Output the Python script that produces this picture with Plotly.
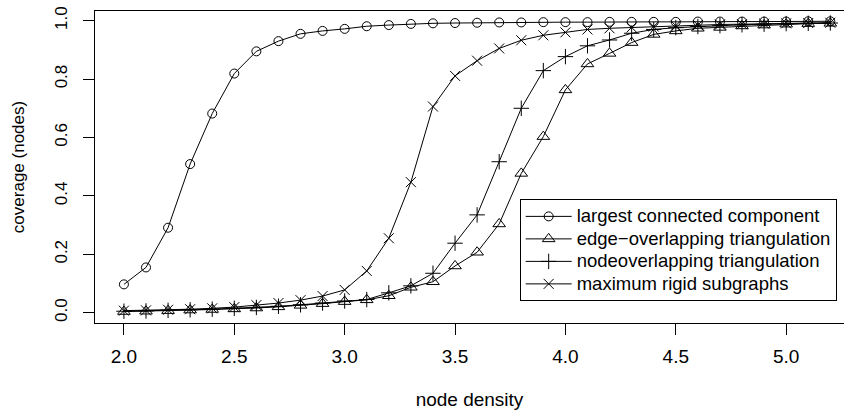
import plotly.graph_objects as go

density = [2.0, 2.1, 2.2, 2.3, 2.4, 2.5, 2.6, 2.7, 2.8, 2.9,
           3.0, 3.1, 3.2, 3.3, 3.4, 3.5, 3.6, 3.7, 3.8, 3.9,
           4.0, 4.1, 4.2, 4.3, 4.4, 4.5, 4.6, 4.7, 4.8, 4.9,
           5.0, 5.1, 5.2]

largest_cc = [0.097, 0.155, 0.291, 0.509, 0.682, 0.819, 0.895, 0.930, 0.955, 0.965,
              0.972, 0.981, 0.985, 0.989, 0.991, 0.992, 0.993, 0.994, 0.994, 0.995,
              0.995, 0.995, 0.996, 0.996, 0.996, 0.996, 0.997, 0.997, 0.997, 0.997,
              0.997, 0.998, 0.998]

edge_overlap = [0.004, 0.005, 0.007, 0.009, 0.011, 0.013, 0.016, 0.020, 0.025, 0.031,
                0.038, 0.044, 0.058, 0.087, 0.106, 0.160, 0.207, 0.304, 0.477, 0.603,
                0.763, 0.852, 0.888, 0.925, 0.953, 0.965, 0.974, 0.977, 0.982, 0.985,
                0.988, 0.990, 0.991]

node_overlap = [0.005, 0.006, 0.008, 0.010, 0.012, 0.015, 0.018, 0.022, 0.027, 0.033,
                0.040, 0.045, 0.068, 0.092, 0.135, 0.238, 0.335, 0.517, 0.700, 0.829,
                0.877, 0.914, 0.934, 0.957, 0.970, 0.976, 0.980, 0.983, 0.986, 0.988,
                0.990, 0.991, 0.992]

max_rigid = [0.007, 0.008, 0.010, 0.012, 0.015, 0.019, 0.026, 0.033, 0.043, 0.057,
             0.078, 0.143, 0.255, 0.447, 0.706, 0.811, 0.863, 0.905, 0.933, 0.950,
             0.960, 0.970, 0.974, 0.977, 0.980, 0.983, 0.985, 0.987, 0.988, 0.990,
             0.991, 0.992, 0.993]

series = [
    ("largest connected component", largest_cc, "circle-open", 9),
    ("edge\u2212overlapping triangulation", edge_overlap, "triangle-up-open", 11),
    ("nodeoverlapping triangulation", node_overlap, "cross-thin-open", 11),
    ("maximum rigid subgraphs", max_rigid, "x-thin-open", 10),
]

FONT = "Liberation Sans, Arial, Helvetica, sans-serif"

fig = go.Figure()
for name, vals, sym, sz in series:
    fig.add_trace(go.Scatter(
        x=density, y=vals,
        name='<span style="font-size:18.5px">' + name + '</span>',
        mode="lines+markers",
        line=dict(color="black", width=1),
        marker=dict(symbol=sym, size=sz, color="black",
                    line=dict(color="black", width=1)),
    ))

fig.update_layout(
    width=844, height=410,
    margin=dict(l=95, r=0, t=11, b=87, autoexpand=False),
    plot_bgcolor="white", paper_bgcolor="white",
    font=dict(family=FONT, color="black", size=18),
    showlegend=True,
    legend=dict(
        x=0.567, y=0.397, xanchor="left", yanchor="top",
        bgcolor="white", bordercolor="black", borderwidth=1,
        font=dict(size=15, family=FONT, color="black"),
        tracegroupgap=0, itemwidth=46,
    ),
    xaxis=dict(
        range=[1.869, 5.262], tick0=2.0, dtick=0.5, tickformat=".1f",
        showgrid=False, zeroline=False, automargin=False,
        showline=True, linecolor="black", linewidth=1, mirror=True,
        ticks="outside", ticklen=11, tickcolor="black", tickwidth=1,
        tickfont=dict(size=19, family=FONT, color="black"),
        ticklabelstandoff=5,
        title=dict(text="node density", font=dict(size=19, family=FONT, color="black"),
                   standoff=36),
    ),
    yaxis=dict(
        range=[-0.0353, 1.0332], tick0=0, dtick=0.2, tickformat=".1f",
        showgrid=False, zeroline=False, automargin=False,
        showline=True, linecolor="black", linewidth=1, mirror=False,
        ticks="outside", ticklen=11, tickcolor="black", tickwidth=1,
        tickangle=-90,
        tickfont=dict(size=17, family=FONT, color="black"),
        ticklabelstandoff=9,
        title=dict(text="coverage (nodes)", font=dict(size=17, family=FONT, color="black"),
                   standoff=23),
    ),
)

fig.write_html("out.html", config={"displayModeBar": False},
               post_script="document.body.style.margin='0';")
